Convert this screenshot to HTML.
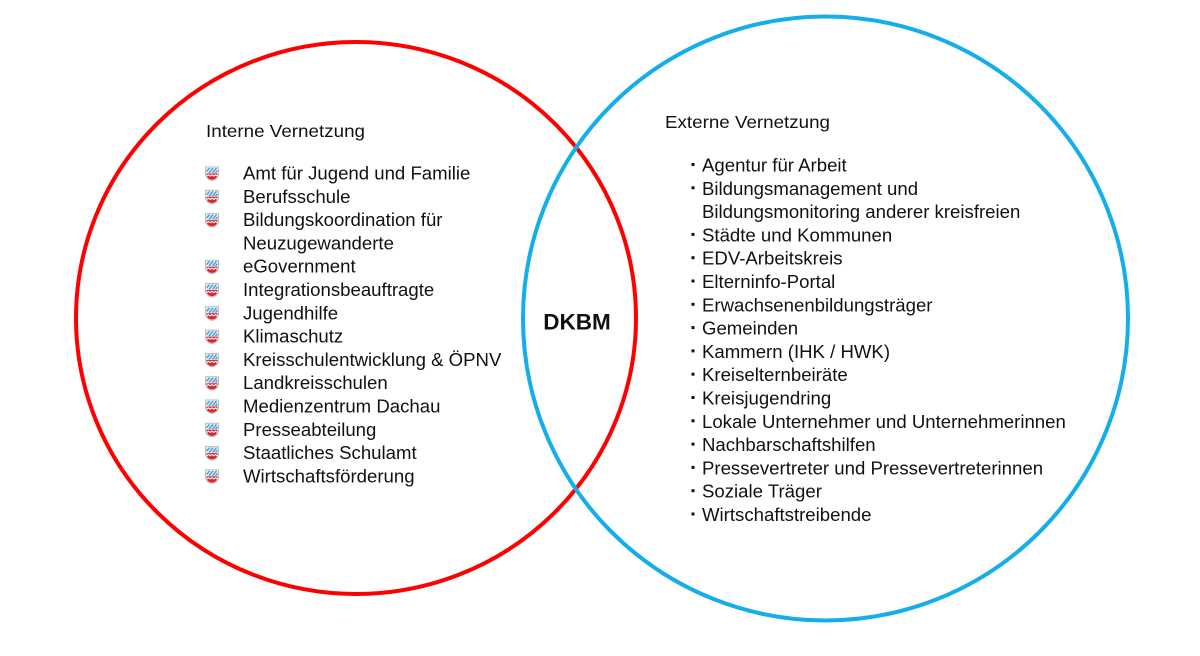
<!DOCTYPE html>
<html>
<head>
<meta charset="utf-8">
<style>
  html, body { margin: 0; padding: 0; background: #ffffff; }
  body { width: 1200px; height: 656px; overflow: hidden; }
  svg { display: block; }
  text { font-family: "Liberation Sans", Arial, sans-serif; fill: #111; }
  .it { font-size: 18.6px; }
  .hd { font-size: 17.5px; }
</style>
</head>
<body>
<svg width="1200" height="656" viewBox="0 0 1200 656" xmlns="http://www.w3.org/2000/svg">
  <defs>
    <g id="crest">
      <path d="M0.5,0.5 H13.5 V7 C13.5,11 10.5,13.5 7,14 C3.5,13.5 0.5,11 0.5,7 Z" fill="#ffffff" stroke="#b9b9b9" stroke-width="1"/>
      <rect x="1.5" y="1.5" width="11" height="5" fill="#cfe6f5"/>
      <path d="M1.5,5 L4.5,1.5 M4,6.5 L8,1.5 M7.5,6.5 L11.5,1.5 M10.5,6.5 L12.5,4" stroke="#4a9ad6" stroke-width="1.3"/>
      <path d="M1.5,7 H12.5 V8 C12.5,11 10,13 7,13.2 C4,13 1.5,11 1.5,8 Z" fill="#e3202a"/>
      <path d="M1.8,9.6 L3.5,8.4 L5.2,9.6 L7,8.4 L8.8,9.6 L10.5,8.4 L12.2,9.6" stroke="#ffffff" stroke-width="1.1" fill="none"/>
    </g>
  </defs>

  <!-- circles -->
  <ellipse cx="356" cy="318" rx="280" ry="276" fill="none" stroke="#ff0000" stroke-width="4"/>
  <ellipse cx="825.5" cy="318.5" rx="302.5" ry="302" fill="none" stroke="#14aeea" stroke-width="4"/>

  <!-- centre label -->
  <text x="577" y="329.5" text-anchor="middle" style="font-size:22.5px;font-weight:bold;" fill="#000">DKBM</text>

  <!-- left block -->
  <text class="hd" x="206" y="137" textLength="159" lengthAdjust="spacingAndGlyphs">Interne Vernetzung</text>

  <use href="#crest" x="205" y="166.5"/>
  <use href="#crest" x="205" y="189.8"/>
  <use href="#crest" x="205" y="213.1"/>
  <use href="#crest" x="205" y="259.7"/>
  <use href="#crest" x="205" y="283"/>
  <use href="#crest" x="205" y="306.3"/>
  <use href="#crest" x="205" y="329.6"/>
  <use href="#crest" x="205" y="352.9"/>
  <use href="#crest" x="205" y="376.2"/>
  <use href="#crest" x="205" y="399.5"/>
  <use href="#crest" x="205" y="422.8"/>
  <use href="#crest" x="205" y="446.1"/>
  <use href="#crest" x="205" y="469.4"/>

  <text class="it" x="243" y="179.5">Amt für Jugend und Familie</text>
  <text class="it" x="243" y="202.8">Berufsschule</text>
  <text class="it" x="243" y="226.1">Bildungskoordination für</text>
  <text class="it" x="243" y="249.4">Neuzugewanderte</text>
  <text class="it" x="243" y="272.7">eGovernment</text>
  <text class="it" x="243" y="296">Integrationsbeauftragte</text>
  <text class="it" x="243" y="319.3">Jugendhilfe</text>
  <text class="it" x="243" y="342.6">Klimaschutz</text>
  <text class="it" x="243" y="365.9">Kreisschulentwicklung &amp; ÖPNV</text>
  <text class="it" x="243" y="389.2">Landkreisschulen</text>
  <text class="it" x="243" y="412.5">Medienzentrum Dachau</text>
  <text class="it" x="243" y="435.8">Presseabteilung</text>
  <text class="it" x="243" y="459.1">Staatliches Schulamt</text>
  <text class="it" x="243" y="482.4">Wirtschaftsförderung</text>

  <!-- right block -->
  <text class="hd" x="665" y="128" textLength="165" lengthAdjust="spacingAndGlyphs">Externe Vernetzung</text>

  <g fill="#111">
    <rect x="691.5" y="163" width="3" height="3"/>
    <rect x="691.5" y="186.3" width="3" height="3"/>
    <rect x="691.5" y="232.9" width="3" height="3"/>
    <rect x="691.5" y="256.2" width="3" height="3"/>
    <rect x="691.5" y="279.5" width="3" height="3"/>
    <rect x="691.5" y="302.8" width="3" height="3"/>
    <rect x="691.5" y="326.1" width="3" height="3"/>
    <rect x="691.5" y="349.4" width="3" height="3"/>
    <rect x="691.5" y="372.7" width="3" height="3"/>
    <rect x="691.5" y="396" width="3" height="3"/>
    <rect x="691.5" y="419.3" width="3" height="3"/>
    <rect x="691.5" y="442.6" width="3" height="3"/>
    <rect x="691.5" y="465.9" width="3" height="3"/>
    <rect x="691.5" y="489.2" width="3" height="3"/>
    <rect x="691.5" y="512.5" width="3" height="3"/>
  </g>

  <text class="it" x="702" y="171.5">Agentur für Arbeit</text>
  <text class="it" x="702" y="194.8">Bildungsmanagement und</text>
  <text class="it" x="702" y="218.1">Bildungsmonitoring anderer kreisfreien</text>
  <text class="it" x="702" y="241.4">Städte und Kommunen</text>
  <text class="it" x="702" y="264.7">EDV-Arbeitskreis</text>
  <text class="it" x="702" y="288">Elterninfo-Portal</text>
  <text class="it" x="702" y="311.3">Erwachsenenbildungsträger</text>
  <text class="it" x="702" y="334.6">Gemeinden</text>
  <text class="it" x="702" y="357.9">Kammern (IHK / HWK)</text>
  <text class="it" x="702" y="381.2">Kreiselternbeiräte</text>
  <text class="it" x="702" y="404.5">Kreisjugendring</text>
  <text class="it" x="702" y="427.8">Lokale Unternehmer und Unternehmerinnen</text>
  <text class="it" x="702" y="451.1">Nachbarschaftshilfen</text>
  <text class="it" x="702" y="474.4">Pressevertreter und Pressevertreterinnen</text>
  <text class="it" x="702" y="497.7">Soziale Träger</text>
  <text class="it" x="702" y="521">Wirtschaftstreibende</text>
</svg>
</body>
</html>
